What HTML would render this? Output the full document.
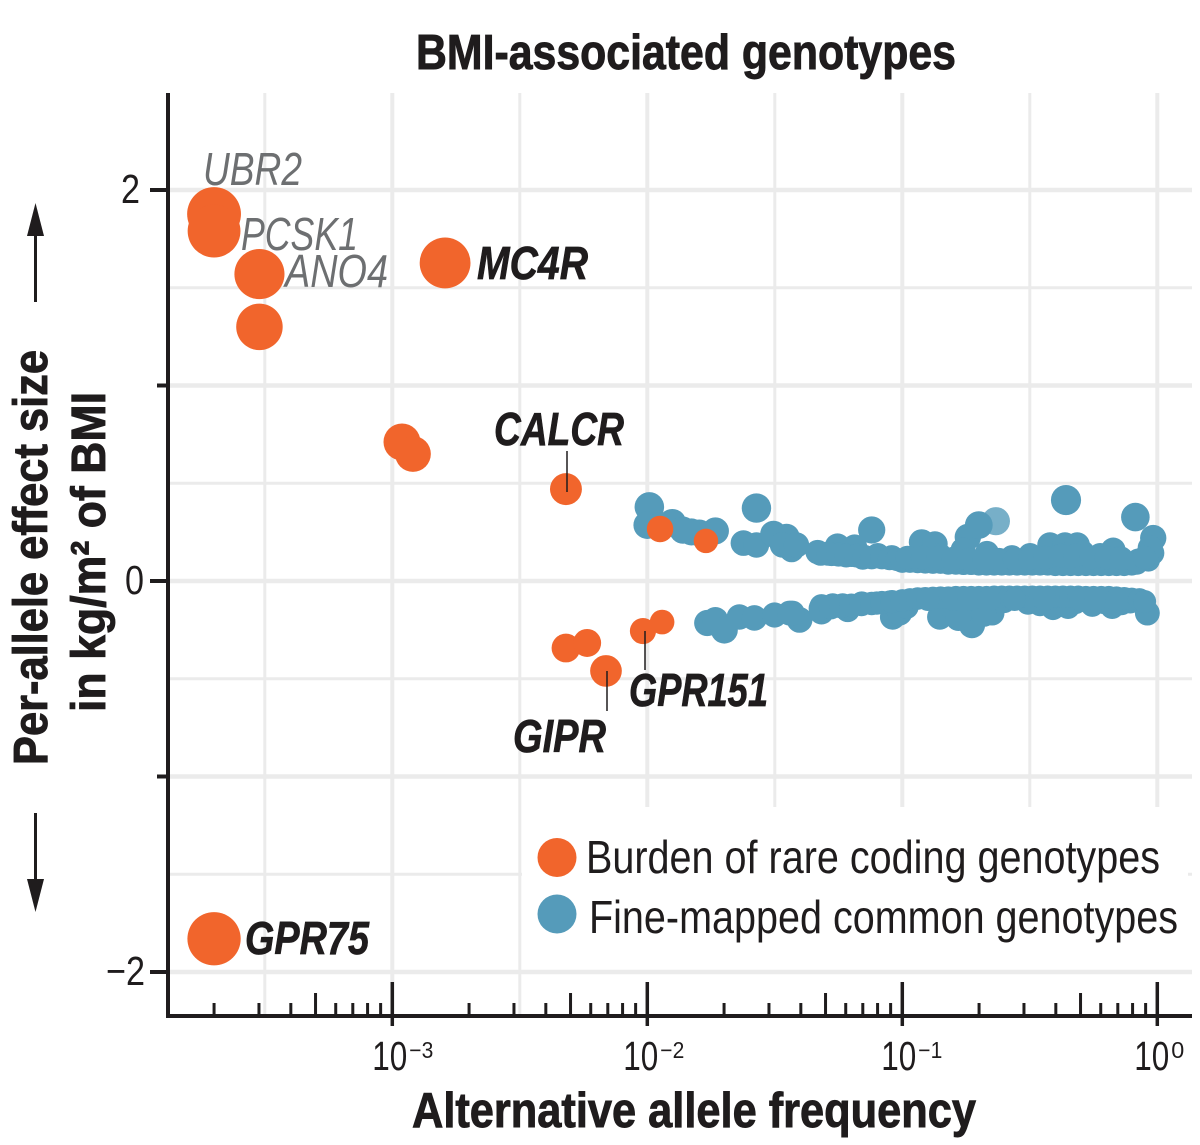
<!DOCTYPE html>
<html lang="en">
<head>
<meta charset="utf-8">
<title>BMI-associated genotypes</title>
<style>
html,body{margin:0;padding:0;background:#fff;width:1200px;height:1145px;overflow:hidden}
svg{display:block}
text{font-family:"Liberation Sans",sans-serif;fill:#1f1c1d}
.bold{font-weight:700;stroke:#1f1c1d;stroke-width:.9px}
.gene-gray{font-style:italic;fill:#6d6f71;font-size:46px}
.gene-black{font-style:italic;font-weight:700;font-size:46px;stroke:#1f1c1d;stroke-width:.7px}
</style>
</head>
<body>
<svg id="chart" xmlns="http://www.w3.org/2000/svg" width="1200" height="1145" viewBox="0 0 1200 1145">
  <g id="grid-v"></g>
  <rect x="522" y="807" width="666" height="207" fill="#fff"/>
  <g id="grid-h"></g>
  <rect x="522" y="870" width="666" height="8" fill="#fff"/>
  <g id="marks-common"></g>
  <g id="marks-rare"></g>
  <g id="axes"></g>

  <text class="bold" x="416" y="69" font-size="49" textLength="540" lengthAdjust="spacingAndGlyphs">BMI-associated genotypes</text>
  <text class="bold" x="412" y="1127" font-size="49" textLength="564" lengthAdjust="spacingAndGlyphs">Alternative allele frequency</text>
  <text class="bold" transform="translate(47,765) rotate(-90)" font-size="48" textLength="415" lengthAdjust="spacingAndGlyphs">Per-allele effect size</text>
  <text class="bold" transform="translate(105,712) rotate(-90)" font-size="48" textLength="320" lengthAdjust="spacingAndGlyphs">in kg/m² of BMI</text>

  <g>
    <line x1="35.5" y1="302" x2="35.5" y2="232" stroke="#1f1c1d" stroke-width="3"/>
    <polygon points="35.5,203 44,236 27,236" fill="#1f1c1d"/>
  </g>
  <g>
    <line x1="35.5" y1="813" x2="35.5" y2="882" stroke="#1f1c1d" stroke-width="3"/>
    <polygon points="35.5,912 44,879 27,879" fill="#1f1c1d"/>
  </g>

  <text class="gene-gray" x="203" y="185" textLength="99" lengthAdjust="spacingAndGlyphs">UBR2</text>
  <text class="gene-gray" x="241" y="250" textLength="117" lengthAdjust="spacingAndGlyphs">PCSK1</text>
  <text class="gene-gray" x="285" y="287" textLength="103" lengthAdjust="spacingAndGlyphs">ANO4</text>
  <text class="gene-black" x="477" y="279" textLength="111" lengthAdjust="spacingAndGlyphs">MC4R</text>
  <text class="gene-black" x="494" y="445" textLength="130" lengthAdjust="spacingAndGlyphs">CALCR</text>
  <text class="gene-black" x="629" y="706" textLength="139" lengthAdjust="spacingAndGlyphs">GPR151</text>
  <text class="gene-black" x="513" y="752" textLength="93" lengthAdjust="spacingAndGlyphs">GIPR</text>
  <text class="gene-black" x="245" y="954" textLength="124" lengthAdjust="spacingAndGlyphs">GPR75</text>

  <line x1="567" y1="451" x2="567" y2="492" stroke="#1f1c1d" stroke-width="1.5"/>
  <line x1="645" y1="631" x2="645" y2="670" stroke="#1f1c1d" stroke-width="1.5"/>
  <line x1="607" y1="671" x2="607" y2="711" stroke="#1f1c1d" stroke-width="1.5"/>

  <g>
    <circle cx="557" cy="857.5" r="19.5" fill="#f1652c"/>
    <text x="586" y="873" font-size="46" textLength="574" lengthAdjust="spacingAndGlyphs">Burden of rare coding genotypes</text>
    <circle cx="557" cy="914" r="19.5" fill="#559bba"/>
    <text x="589" y="933" font-size="46" textLength="589" lengthAdjust="spacingAndGlyphs">Fine-mapped common genotypes</text>
  </g>
</svg>
<script>
// Y axis / X axis definitions
const yGridMajor = [2, 1, 0, -1, -2];
const yGridMinor = [1.5, 0.5, -0.5, -1.5];
const xGridMajor = [-3, -2, -1, 0];
const xGridMinor = [-3.5, -2.5, -1.5, -0.5];
const yTickLabels = [2, 0, -2];
const yTickUnlabeled = [1, -1];
const xTickExponents = [-3, -2, -1, 0];
const xMinorDecades = [-4, -3, -2, -1];
const xMinorMultiples = [2, 3, 4, 5, 6, 7, 8, 9];

// Burden of rare coding genotypes: log10(frequency), effect size
const rareLogFreq = [-3.699, -3.699, -3.521, -3.521, -2.793, -2.962, -2.919, -2.319, -1.950, -1.770, -2.319, -2.236, -2.162, -2.017, -1.942, -3.699];
const rareEffect = [1.877, 1.79, 1.57, 1.30, 1.627, 0.711, 0.65, 0.47, 0.266, 0.205, -0.343, -0.317, -0.46, -0.256, -0.21, -1.83];

// Fine-mapped common genotypes, effect increasing: log10(frequency), effect size
const upperLogFreq = [
 -1.992,-2.000,-1.902,-1.827,-1.796,-1.733,-1.623,-1.572,-1.572,-1.505,
 -1.454,-1.470,-1.434,-1.415,-1.332,-1.277,-1.254,-1.199,-1.187,-1.120,
 -1.155,-1.096,-1.041,-0.983,-0.924,-0.872,-0.853,-0.743,-0.762,-0.700,
 -0.668,-0.570,-0.499,-0.421,-0.362,-0.314,-0.291,-0.358,-0.086,-0.224,
 -0.173,-0.145,-0.075,-0.035,-0.020,-0.016,-0.028,-1.950,-1.860,-1.770
];
const upperEffect = [
 0.379,0.286,0.297,0.251,0.246,0.256,0.194,0.184,0.373,0.240,
 0.225,0.184,0.159,0.184,0.148,0.138,0.179,0.133,0.174,0.261,
 0.118,0.133,0.123,0.107,0.199,0.189,0.133,0.225,0.159,0.286,
 0.143,0.123,0.133,0.184,0.184,0.184,0.143,0.414,0.327,0.133,
 0.159,0.118,0.107,0.107,0.143,0.220,0.169,0.280,0.260,0.235
];
// upper band, densely overlapping inner rows
const upperRowLogFreq = [
 -1.32,-1.29,-1.25,-1.22,-1.18,-1.15,-1.12,-1.08,-1.05,-1.02,
 -1.00,-0.97,-0.94,-0.91,-0.88,-0.85,-0.82,-0.79,-0.76,-0.73,
 -0.70,-0.67,-0.64,-0.61,-0.58,-0.55,-0.52,-0.49,-0.46,-0.43,
 -0.40,-0.37,-0.34,-0.31,-0.28,-0.25,-0.22,-0.19,-0.16,-0.13,
 -0.10,-0.08,-0.98,-0.92,-0.86,-0.80,-0.74,-0.68,-0.62,-0.56,
 -0.50,-0.44,-0.38,-0.32,-0.26,-0.20,-0.14,-0.05
];
const upperRowEffect = [
 0.140,0.140,0.135,0.130,0.130,0.125,0.120,0.120,0.115,0.110,
 0.100,0.100,0.098,0.096,0.095,0.095,0.090,0.090,0.088,0.088,
 0.085,0.085,0.085,0.085,0.085,0.085,0.085,0.085,0.085,0.085,
 0.082,0.082,0.082,0.082,0.082,0.082,0.082,0.082,0.082,0.082,
 0.085,0.090,0.120,0.120,0.120,0.115,0.110,0.110,0.110,0.110,
 0.115,0.120,0.130,0.130,0.120,0.120,0.115,0.120
];
// Fine-mapped common genotypes, effect decreasing
const lowerLogFreq = [
 -1.765,-1.733,-1.698,-1.639,-1.580,-1.501,-1.442,-1.403,-1.431,-1.317,
 -1.317,-1.273,-1.214,-1.234,-1.159,-1.100,-1.038,-1.049,-1.010,-0.983,
 -0.853,-0.727,-0.648,-0.775,-0.507,-0.409,-0.350,-0.255,-0.177,-0.106,
 -0.039,-0.810,-0.700,-0.680,-0.600,-0.460,-0.320,-0.210,-0.140,-0.780
];
const lowerEffect = [
 -0.215,-0.199,-0.251,-0.184,-0.189,-0.174,-0.164,-0.199,-0.164,-0.159,
 -0.128,-0.123,-0.148,-0.123,-0.113,-0.113,-0.184,-0.107,-0.164,-0.133,
 -0.184,-0.225,-0.164,-0.148,-0.113,-0.138,-0.133,-0.123,-0.133,-0.107,
 -0.164,-0.130,-0.150,-0.170,-0.105,-0.120,-0.110,-0.110,-0.115,-0.190
];
// lower band, densely overlapping inner rows
const lowerRowLogFreq = [
 -1.32,-1.28,-1.24,-1.20,-1.16,-1.12,-1.08,-1.04,-1.00,-0.97,
 -0.94,-0.91,-0.88,-0.85,-0.82,-0.79,-0.76,-0.73,-0.70,-0.67,
 -0.64,-0.61,-0.58,-0.55,-0.52,-0.49,-0.46,-0.43,-0.40,-0.37,
 -0.34,-0.31,-0.28,-0.25,-0.22,-0.19,-0.16,-0.13,-0.10,-0.07,
 -0.90,-0.80,-0.74,-0.66,-0.56,-0.44,-0.30,-0.24,-0.16,-0.05
];
const lowerRowEffect = [
 -0.140,-0.135,-0.130,-0.125,-0.120,-0.115,-0.110,-0.105,-0.100,-0.095,
 -0.090,-0.088,-0.086,-0.085,-0.085,-0.082,-0.082,-0.082,-0.082,-0.082,
 -0.080,-0.080,-0.080,-0.080,-0.080,-0.080,-0.080,-0.080,-0.080,-0.080,
 -0.080,-0.080,-0.082,-0.082,-0.082,-0.082,-0.085,-0.088,-0.092,-0.095,
 -0.095,-0.095,-0.095,-0.095,-0.095,-0.095,-0.095,-0.095,-0.095,-0.105
];
const fadedLogFreq = [-0.633];
const fadedEffect = [0.306];

const NS = 'http://www.w3.org/2000/svg';
const x = v => 1157.3 + 255 * v;
const y = v => 581 - 195.5 * v;
const rareRadius = b => 5 + 16 * Math.sqrt(Math.abs(b));
const commonRadius = b => 8 + 11 * Math.sqrt(Math.abs(b));
const INK = '#1f1c1d';
const GRID = '#ebebeb';
const AXIS_RIGHT = 1192, AXIS_LEFT = 168, AXIS_BOTTOM = 1016, AXIS_TOP = 93;
const labelNudge = {'-3': 2, '-2': -2, '-1': 1, '0': -1};

function make(tag, parent, props) {
  const el = document.createElementNS(NS, tag);
  for (const k in props) el.setAttribute(k, props[k]);
  parent.appendChild(el);
  return el;
}

const gridV = document.getElementById('grid-v');
const gridH = document.getElementById('grid-h');
const axes = document.getElementById('axes');
const marksCommon = document.getElementById('marks-common');
const marksRare = document.getElementById('marks-rare');

xGridMajor.forEach(v => {
  const el = make('line', gridV, {x1:x(v), x2:x(v), y1:AXIS_TOP, y2:AXIS_BOTTOM, stroke:GRID, 'stroke-width':4});
  
  
});
xGridMinor.forEach(v => {
  const el = make('line', gridV, {x1:x(v), x2:x(v), y1:AXIS_TOP, y2:AXIS_BOTTOM, stroke:GRID, 'stroke-width':3});
  
  
});
yGridMajor.forEach(v => {
  const el = make('line', gridH, {x1:AXIS_LEFT, x2:AXIS_RIGHT, y1:y(v), y2:y(v), stroke:GRID, 'stroke-width':4.5});
  
  
});
yGridMinor.forEach(v => {
  const el = make('line', gridH, {x1:AXIS_LEFT, x2:AXIS_RIGHT, y1:y(v), y2:y(v), stroke:GRID, 'stroke-width':3});
  
  
});

// common points
fadedLogFreq.forEach((v, i) => {
  const el = make('circle', marksCommon, {cx:x(v), cy:y(fadedEffect[i]), r:commonRadius(fadedEffect[i]), fill:'#559bba', 'fill-opacity':0.8});
  
  
});
[[upperLogFreq, upperEffect], [upperRowLogFreq, upperRowEffect], [lowerLogFreq, lowerEffect], [lowerRowLogFreq, lowerRowEffect]].forEach(series => {
  series[0].forEach((v, i) => {
    const el = make('circle', marksCommon, {cx:x(v), cy:y(series[1][i]), r:commonRadius(series[1][i]), fill:'#559bba'});
    
    
  });
});
// rare points
rareLogFreq.forEach((v, i) => {
  const el = make('circle', marksRare, {cx:x(v), cy:y(rareEffect[i]), r:rareRadius(rareEffect[i]), fill:'#f1652c'});
  
  
});

// axis lines
const yLine = make('line', axes, {x1:AXIS_LEFT, x2:AXIS_LEFT, y1:AXIS_TOP, y2:AXIS_BOTTOM + 2, stroke:INK, 'stroke-width':4});


const xLine = make('line', axes, {x1:AXIS_LEFT - 2, x2:AXIS_RIGHT, y1:AXIS_BOTTOM, y2:AXIS_BOTTOM, stroke:INK, 'stroke-width':4});



// y ticks
yTickLabels.forEach(v => {
  const tick = make('line', axes, {x1:150, x2:AXIS_LEFT, y1:y(v), y2:y(v), stroke:INK, 'stroke-width':4});
  
  
  const str = v < 0 ? '\u2212' + Math.abs(v) : String(v);
  const len = str.length > 1 ? 39 : 19;
  const right = v === 0 ? 144 : (v < 0 ? 145 : 140);
  const t = make('text', axes, {x:right - len, y:y(v) + 13, 'font-size':41, textLength:len, lengthAdjust:'spacingAndGlyphs'});
  t.textContent = str;
  
  
});
yTickUnlabeled.forEach(v => {
  const tick = make('line', axes, {x1:157, x2:AXIS_LEFT, y1:y(v), y2:y(v), stroke:INK, 'stroke-width':4});
  
  
});

// x ticks
xTickExponents.forEach(e => {
  const tick = make('line', axes, {x1:x(e), x2:x(e), y1:982, y2:1026, stroke:INK, 'stroke-width':3.5});
  
  
  const nudge = labelNudge[e] || 0;
  const base = make('text', axes, {x:x(e) - 22 + nudge, y:1070, 'font-size':41, textLength:35, lengthAdjust:'spacingAndGlyphs'});
  base.textContent = '10';
  
  
  const supStr = e < 0 ? '\u2212' + Math.abs(e) : String(e);
  const sup = make('text', axes, {x:x(e) + 15 + nudge, y:1058, 'font-size':23, textLength:supStr.length > 1 ? 24 : 13, lengthAdjust:'spacingAndGlyphs'});
  sup.textContent = supStr;
  
  
});
xMinorDecades.forEach(d => {
  xMinorMultiples.forEach(m => {
    const pos = x(d + Math.log10(m));
    const top = m === 5 ? 993 : 1003;
    const tick = make('line', axes, {x1:pos, x2:pos, y1:top, y2:AXIS_BOTTOM, stroke:INK, 'stroke-width':3});
    
    
  });
});
</script>
</body>
</html>
